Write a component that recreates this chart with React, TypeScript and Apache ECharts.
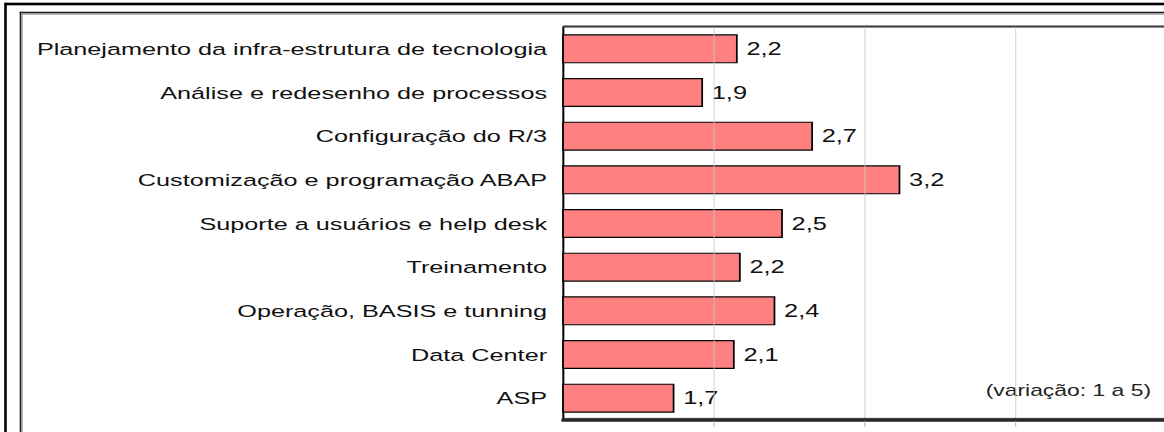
import React, { useEffect, useRef } from "react";
import * as echarts from "echarts";

const categories = [
  "Planejamento da infra-estrutura de tecnologia",
  "Análise e redesenho de processos",
  "Configuração do R/3",
  "Customização e programação ABAP",
  "Suporte a usuários e help desk",
  "Treinamento",
  "Operação, BASIS e tunning",
  "Data Center",
  "ASP",
];
const values = [2.16, 1.93, 2.66, 3.24, 2.46, 2.18, 2.41, 2.14, 1.74];
const axisMin = 1;
const axisMax = 5;
const axisStep = 1;
const tickValues = [2, 3, 4];
const noteText = "(variação: 1 a 5)";

const SX = 1.45;
const INNER_W = 1180 / SX;
const H = 432;
const FONT = "'Liberation Sans', Arial, sans-serif";

export default function App() {
  const ref = useRef<HTMLDivElement>(null);
  useEffect(() => {
    if (!ref.current) return;
    const chart = echarts.init(ref.current, undefined, { renderer: "svg" });
    const fmt = (v: number) => (Math.round(v * 10) / 10).toFixed(1).replace(".", ",");
    const gx = (px: number) => px / SX;
    const box = (x: number, y: number, w: number, h: number, fill: string, z = 5) => ({
      type: "rect",
      shape: { x: gx(x), y, width: gx(w), height: h },
      style: { fill, stroke: fill, lineWidth: 0.5 },
      z,
      silent: true,
    });
    chart.setOption({
      animation: false,
      backgroundColor: "#ffffff",
      grid: {
        left: gx(563),
        top: 27,
        height: 393,
        width: gx(602.4),
        containLabel: false,
      },
      xAxis: {
        type: "value",
        min: axisMin,
        max: axisMax,
        interval: axisStep,
        axisLine: { show: true, onZero: false, lineStyle: { color: "#2a2a2a", width: 2.5 } },
        axisTick: { show: true, length: 7, customValues: tickValues, lineStyle: { color: "#aaa", width: 1 / SX } },
        axisLabel: { show: false },
        splitLine: { show: true, lineStyle: { color: "#c8c8c8", width: 1 / SX } },
        z: 30,
      },
      yAxis: {
        type: "category",
        data: categories,
        inverse: true,
        axisLine: { show: true, lineStyle: { color: "#000", width: 2 / SX } },
        axisTick: { show: false },
        axisLabel: {
          margin: 11,
          fontSize: 17.4,
          fontFamily: FONT,
          color: "#111",
        },
        splitLine: { show: false },
      },
      series: [
        {
          type: "bar",
          data: values,
          barWidth: 29,
          itemStyle: { color: "#FF8080", borderColor: "#000", borderWidth: 1.2 },
          label: {
            show: true,
            position: "right",
            distance: 6,
            fontSize: 17.5,
            fontFamily: FONT,
            color: "#111",
            formatter: (p: any) => fmt(p.value),
          },
        },
      ],
      graphic: [
        box(5, 3, 1180, 2, "#000"),
        box(4.5, 3, 2, H, "#000"),
        box(20, 12, 1180, 1.5, "#222"),
        box(21.5, 13.5, 1180, 1, "#aaa"),
        box(20, 12, 1.5, H, "#222"),
        box(21.5, 13.5, 1, H, "#aaa"),
        box(563, 25.8, 620, 1.5, "#444"),
        box(562, 418.3, 620, 2.4, "#2a2a2a", 40),
        box(986, 371, 176, 46, "#fff", 10),
        {
          type: "text",
          x: gx(1151),
          y: 390,
          z: 11,
          style: {
            text: noteText,
            fill: "#222",
            fontSize: 15.8,
            fontFamily: FONT,
            align: "right",
            verticalAlign: "middle",
          },
        },
      ],
    });
    return () => chart.dispose();
  }, []);
  return (
    <div style={{ position: "absolute", left: 0, top: 0, width: 1164, height: H, overflow: "hidden", background: "#fff" }}>
      <div
        ref={ref}
        style={{ width: INNER_W, height: H, transform: `scaleX(${SX})`, transformOrigin: "0 0" }}
      />
    </div>
  );
}
